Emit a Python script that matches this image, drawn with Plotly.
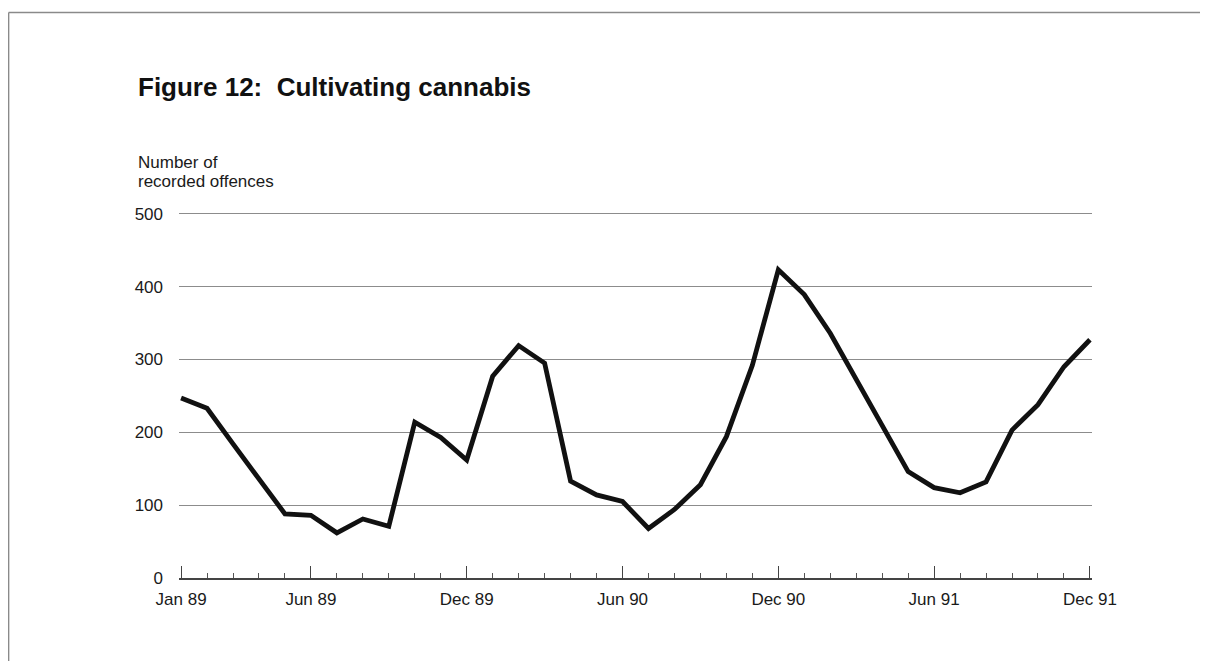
import plotly.graph_objects as go

# ---- data ----
month_names = ["Jan", "Feb", "Mar", "Apr", "May", "Jun",
               "Jul", "Aug", "Sep", "Oct", "Nov", "Dec"]
years = ["89", "90", "91"]
months = [f"{m} {y}" for y in years for m in month_names]

offences = [247, 233, 184, 137, 88, 86, 62, 81, 71, 214, 193, 162,
            277, 319, 295, 133, 114, 105, 68, 94, 128, 194, 292, 423,
            389, 336, 272, 208, 146, 124, 117, 132, 203, 238, 290, 327]

tick_labels = ["Jan 89", "Jun 89", "Dec 89", "Jun 90", "Dec 90", "Jun 91", "Dec 91"]
y_ticks = [0, 100, 200, 300, 400, 500]

title_text = "<b>Figure 12:  Cultivating cannabis</b>"
y_title_lines = ["Number of", "recorded offences"]

# ---- layout geometry (screen pixels; page body has an 8px offset) ----
OFF = 8
W, H = 1208, 661
PAD = 0.08
STEP = (1090 - 181) / 35
L, R = 181 - PAD * STEP - OFF, 1090 + PAD * STEP - OFF
YMAX = 512
UNIT = (577.7 - 213.3) / 500
B = 577.7 - OFF
T = B - YMAX * UNIT


def px2x(px):
    return (px - OFF - L) / (R - L)


def py2y(py):
    return (B - (py - OFF)) / (B - T)


x_idx = list(range(len(months)))
tick_pos = [months.index(t) for t in tick_labels]

FONT = "Liberation Sans, Arial, Helvetica, sans-serif"
TXT = "#1a1a1a"

fig = go.Figure()
fig.add_trace(go.Scatter(
    x=x_idx, y=offences, mode="lines",
    line=dict(color="#111111", width=4.8),
    text=months, hoverinfo="text+y", showlegend=False,
))

fig.update_layout(
    width=W, height=H,
    margin=dict(l=L, r=W - R, t=T, b=H - B, pad=0),
    paper_bgcolor="white", plot_bgcolor="white",
    font=dict(family=FONT, size=17, color=TXT),
    showlegend=False,
)

fig.update_xaxes(
    range=[-PAD, len(months) - 1 + PAD],
    tickmode="array", tickvals=tick_pos, ticktext=tick_labels,
    ticks="inside", ticklen=12, tickwidth=1.3, tickcolor="#444444",
    showline=True, linecolor="#444444", linewidth=1.6,
    showgrid=False, zeroline=False,
    ticklabelstandoff=5,
    tickfont=dict(family=FONT, size=17, color=TXT),
    minor=dict(ticks="inside", ticklen=5, tickwidth=1, tickcolor="#555555",
               tickmode="linear", tick0=0, dtick=1, showgrid=False),
)

fig.update_yaxes(
    range=[0, YMAX],
    tickmode="array", tickvals=y_ticks,
    ticks="", showline=False, zeroline=False,
    showgrid=True, gridcolor="#8c8c8c", gridwidth=1,
    ticklabelstandoff=15,
    tickfont=dict(family=FONT, size=17, color=TXT),
)

fig.add_annotation(
    xref="paper", yref="paper", x=px2x(136), y=py2y(87),
    xanchor="left", yanchor="middle", showarrow=False,
    text=title_text,
    font=dict(family=FONT, size=26, color="#111111"),
)

for line_text, cy in zip(y_title_lines, [162, 181]):
    fig.add_annotation(
        xref="paper", yref="paper", x=px2x(136), y=py2y(cy),
        xanchor="left", yanchor="middle", showarrow=False, align="left",
        text=line_text,
        font=dict(family=FONT, size=17, color=TXT),
    )

# page frame lines (top and left edges of the scanned page)
for x0, y0, x1, y1 in [(8.5, 12, W + OFF, 12), (8.5, 12, 8.5, H + OFF)]:
    fig.add_shape(type="line", xref="paper", yref="paper",
                  x0=px2x(x0), y0=py2y(y0), x1=px2x(x1), y1=py2y(y1),
                  line=dict(color="#8a8a8a", width=1.5))

fig.write_html("out.html")
